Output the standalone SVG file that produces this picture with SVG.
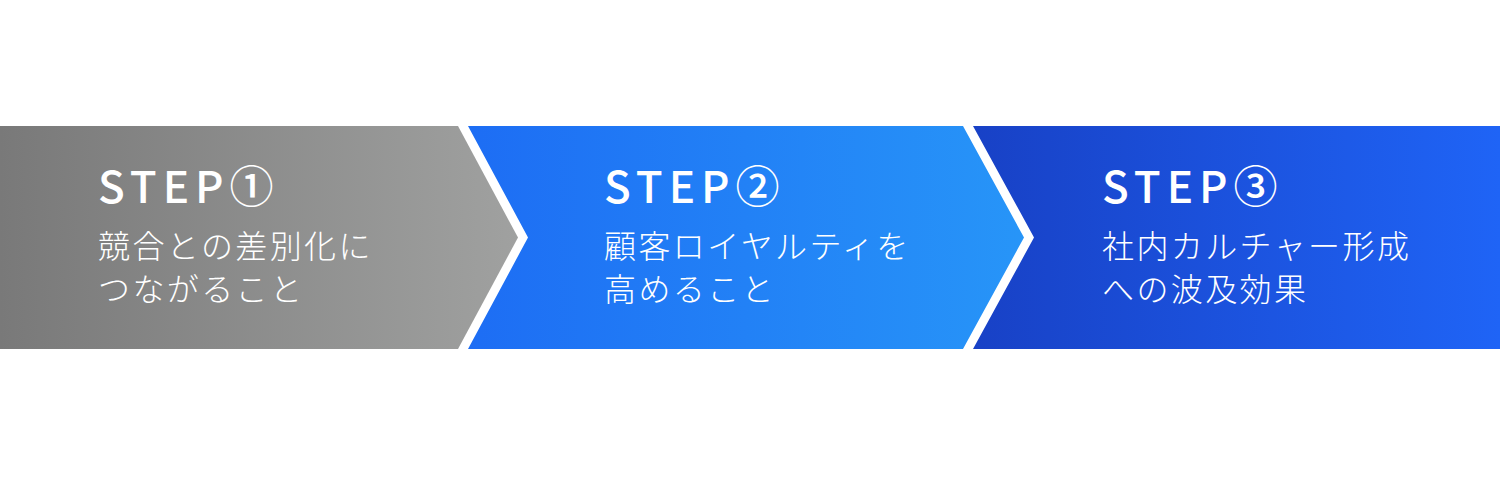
<svg xmlns="http://www.w3.org/2000/svg" width="1500" height="477" viewBox="0 0 1500 477">
<defs>
<linearGradient id="g1" x1="0" y1="0" x2="1" y2="0"><stop offset="0" stop-color="#797979"/><stop offset="1" stop-color="#a0a1a0"/></linearGradient>
<linearGradient id="g2" x1="0" y1="0" x2="1" y2="0"><stop offset="0" stop-color="#1d6df4"/><stop offset="1" stop-color="#2795f8"/></linearGradient>
<linearGradient id="g3" x1="0" y1="0" x2="1" y2="0"><stop offset="0" stop-color="#1841c6"/><stop offset="1" stop-color="#1f64f6"/></linearGradient>
<style>
.step{font-family:"Noto Sans CJK JP","Noto Sans",sans-serif;font-size:44px;font-weight:500;fill:#fff;letter-spacing:6px}
.desc{font-family:"Noto Sans CJK JP",sans-serif;font-size:32px;font-weight:300;fill:#fff;letter-spacing:2.4px}
</style>
</defs>
<rect width="1500" height="477" fill="#fff"/>
<g id="step1">
<polygon points="0,126 458,126 518,237.5 458,349 0,349" fill="url(#g1)"/>
<text class="step" x="98" y="203">STEP①</text>
<text class="desc" x="98" y="258">競合との差別化に</text>
<text class="desc" x="98" y="301">つながること</text>
</g>
<g id="step2">
<polygon points="468,126 963,126 1024,237.5 963,349 468,349 528,237.5" fill="url(#g2)"/>
<text class="step" x="604" y="203">STEP②</text>
<text class="desc" x="604" y="258">顧客ロイヤルティを</text>
<text class="desc" x="604" y="301">高めること</text>
</g>
<g id="step3">
<polygon points="973,126 1500,126 1500,349 973,349 1034,237.5" fill="url(#g3)"/>
<text class="step" x="1102" y="203">STEP③</text>
<text class="desc" x="1102" y="258">社内カルチャー形成</text>
<text class="desc" x="1102" y="301">への波及効果</text>
</g>
<g id="connectors"/>
</svg>
